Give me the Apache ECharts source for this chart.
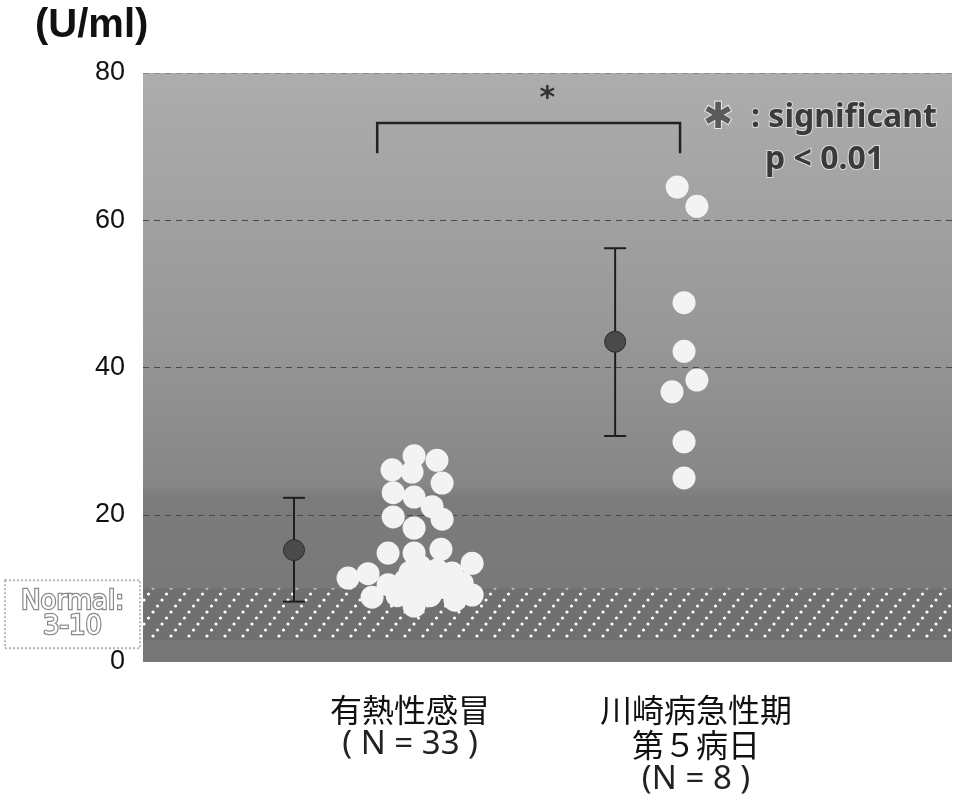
<!DOCTYPE html>
<html>
<head>
<meta charset="utf-8">
<script src="https://cdn.jsdelivr.net/npm/echarts@6/dist/echarts.min.js"></script>
<style>html,body{margin:0;padding:0;background:#fff}#c{width:954px;height:800px}</style>
</head>
<body>
<div id="c"></div>
<script>
// ---------- data ----------
const categoryNames = ['有熱性感冒', '川崎病急性期\n第５病日'];
const sampleSizes = ['( N = 33 )', '(N = 8 )'];
const yTicks = [0, 20, 40, 60, 80];
// 有熱性感冒 (N=33): values (U/ml) and horizontal jitter (fraction of category spacing)
const feverValues = [28.0, 27.4, 25.8, 26.1, 24.3, 23.0, 22.4, 21.1, 19.4, 19.7, 18.2,
  14.8, 14.8, 15.3, 13.4, 11.4, 12.0, 8.8, 10.5, 9.0, 12.2, 9.8, 7.6, 11.1, 9.0,
  12.5, 10.1, 12.1, 8.4, 9.1, 11.1, 13.0, 10.7];
const feverJitter = [0.014, 0.094, 0.007, -0.063, 0.112, -0.059, 0.014, 0.077, 0.112, -0.059, 0.014,
  -0.077, 0.014, 0.108, 0.217, -0.217, -0.147, -0.133, -0.077, -0.045, 0.0, 0.010, 0.014, 0.052, 0.070,
  0.094, 0.122, 0.147, 0.157, 0.217, -0.017, 0.035, 0.182];
// 川崎病急性期 第5病日 (N=8)
const kawasakiValues = [64.5, 61.9, 48.8, 42.2, 38.3, 36.7, 29.9, 25.0];
const kawasakiJitter = [-0.066, 0.003, -0.042, -0.042, 0.003, -0.084, -0.042, -0.042];
// mean ± SD
const groupMeans = [15.2, 43.5];
const groupLows = [8.2, 30.7];
const groupHighs = [22.3, 56.2];
const meanJitter = [-0.406, -0.283];
// normal range
const normalRange = [3, 10];
const normalLabel = ['Normal:', '3-10'];
// significance bracket: [left x, right x, top y, leg bottom y]
const bracket = [0.885, 1.944, 73.2, 69.1];
const bracketStar = [1.48, 76.5];

// ---------- build ----------
const feverData = feverValues.map((v, i) => [1 + feverJitter[i], v]);
const kawaData = kawasakiValues.map((v, i) => [2 + kawasakiJitter[i], v]);
const meanData = groupMeans.map((m, i) => [i + 1 + meanJitter[i], m]);
const errData = groupMeans.map((m, i) => [i + 1 + meanJitter[i], groupLows[i], groupHighs[i]]);

// hatch pattern: dotted diagonal lines
const pc = document.createElement('canvas');
pc.width = 18; pc.height = 24;
const pctx = pc.getContext('2d');
pctx.fillStyle = '#707070';
pctx.fillRect(0, 0, 18, 24);
pctx.fillStyle = '#ffffff';
const hatchPts = [];
for (let k = 0; k <= 4; k++) hatchPts.push([k * 4.5, 24 - k * 6]);
hatchPts.push([0, 0], [18, 24]);
hatchPts.forEach(p => {
  pctx.beginPath(); pctx.arc(p[0], p[1], 1.6, 0, Math.PI * 2); pctx.fill();
});

const chart = echarts.init(document.getElementById('c'), null, {renderer: 'canvas'});
const xMin = 0.066, xMax = 2.895;
const option = {
  animation: false,
  backgroundColor: '#ffffff',
  grid: {
    left: 143, right: 2, top: 73, bottom: 138, show: true, borderWidth: 0,
    backgroundColor: {
      type: 'linear', x: 0, y: 0, x2: 0, y2: 1,
      colorStops: [
        {offset: 0, color: '#adadad'},
        {offset: 0.45, color: '#979797'},
        {offset: 0.7, color: '#868686'},
        {offset: 0.72, color: '#7c7c7c'},
        {offset: 1, color: '#767676'}
      ]
    }
  },
  xAxis: {
    type: 'value', min: xMin, max: xMax,
    axisLine: {show: false}, axisTick: {show: false}, splitLine: {show: false},
    axisLabel: {
      customValues: [1, 2],
      margin: 30,
      formatter: function (v) {
        const i = Math.round(v) - 1;
        const lines = categoryNames[i].split('\n').map(s => '{c|' + s + '}');
        return lines.join('\n') + '\n{n|' + sampleSizes[i] + '}';
      },
      rich: {
        c: {fontSize: 32, lineHeight: 35, fontFamily: 'Noto Sans CJK JP', color: '#111'},
        n: {fontSize: 33, lineHeight: 36, fontFamily: 'Noto Sans', color: '#222'}
      }
    }
  },
  yAxis: {
    type: 'value', min: yTicks[0], max: yTicks[yTicks.length - 1], interval: 20,
    axisLine: {show: false}, axisTick: {show: false},
    axisLabel: {fontSize: 27, color: '#111', fontFamily: 'Liberation Sans', margin: 18},
    splitLine: {show: true, lineStyle: {color: ['rgba(0,0,0,0)', '#4a4a4a', '#4a4a4a', '#4a4a4a', '#8a8a8a'], type: [6, 5], width: 1}}
  },
  graphic: [
    {type: 'text', left: 35, top: 6, style: {text: '(U/ml)', font: 'bold 40px "Liberation Sans"', fill: '#111'}},
    {type: 'text', left: 702, top: 100, style: {text: '✱', font: '36px "DejaVu Sans"', fill: '#5a5a5a', stroke: '#e8e8e8', lineWidth: 2}},
    {type: 'text', left: 750, top: 101, style: {text: ': significant', font: 'bold 32px "Noto Sans"', fill: '#3a3a3a', stroke: '#dcdcdc', lineWidth: 2}},
    {type: 'text', left: 764, top: 143, style: {text: 'p < 0.01', font: 'bold 32px "Noto Sans"', fill: '#3a3a3a', stroke: '#dcdcdc', lineWidth: 2}}
  ],
  series: [
    {
      type: 'line', data: [], z: 1,
      markArea: {
        silent: true,
        itemStyle: {color: {image: pc, repeat: 'repeat'}},
        data: [[{xAxis: 'min', yAxis: normalRange[0]}, {xAxis: 'max', yAxis: normalRange[1]}]]
      }
    },
    {
      type: 'custom', z: 3,
      data: [bracket],
      renderItem: function (params, api) {
        const a = api.coord([api.value(0), api.value(3)]);
        const b = api.coord([api.value(0), api.value(2)]);
        const c = api.coord([api.value(1), api.value(2)]);
        const d = api.coord([api.value(1), api.value(3)]);
        const s = api.coord(bracketStar);
        return {type: 'group', children: [
          {type: 'polyline', shape: {points: [a, b, c, d]}, style: {stroke: '#222', lineWidth: 2.5, fill: null}},
          {type: 'text', style: {text: '*', x: s[0], y: s[1], font: 'bold 30px "DejaVu Sans"', fill: '#333', align: 'center', verticalAlign: 'middle'}}
        ]};
      }
    },
    {
      type: 'custom', z: 4,
      data: errData,
      renderItem: function (params, api) {
        const lo = api.coord([api.value(0), api.value(1)]);
        const hi = api.coord([api.value(0), api.value(2)]);
        const w = 11;
        const st = {stroke: '#1e1e1e', lineWidth: 2};
        return {type: 'group', children: [
          {type: 'line', shape: {x1: lo[0], y1: lo[1], x2: hi[0], y2: hi[1]}, style: st},
          {type: 'line', shape: {x1: lo[0] - w, y1: lo[1], x2: lo[0] + w, y2: lo[1]}, style: st},
          {type: 'line', shape: {x1: hi[0] - w, y1: hi[1], x2: hi[0] + w, y2: hi[1]}, style: st}
        ]};
      }
    },
    {
      type: 'scatter', z: 5, data: meanData, symbolSize: 21,
      itemStyle: {color: '#4a4a4a', borderColor: '#2a2a2a', borderWidth: 1, opacity: 1}
    },
    {
      type: 'scatter', z: 5, data: feverData, symbolSize: 23,
      itemStyle: {color: '#f3f3f3', opacity: 1}
    },
    {
      type: 'scatter', z: 5, data: kawaData, symbolSize: 23,
      itemStyle: {color: '#f3f3f3', opacity: 1}
    }
  ]
};
chart.setOption(option);

// Normal-range annotation box, anchored to the normal range on the y axis
const yHi = chart.convertToPixel({yAxisIndex: 0}, normalRange[1]);
const yLo = chart.convertToPixel({yAxisIndex: 0}, normalRange[0]);
const xLeft = chart.convertToPixel({xAxisIndex: 0}, xMin);
const yc = (yHi + yLo) / 2;
const boxH = 68, boxL = 5, boxR = xLeft - 3;
const g = option.graphic.slice();
g.push({
  type: 'group', z: 10, children: [
    {type: 'rect', shape: {x: boxL, y: yc - boxH / 2, width: boxR - boxL, height: boxH},
     style: {fill: '#ffffff', stroke: '#b5b5b5', lineWidth: 2, lineDash: [2, 2]}},
    {type: 'text', style: {text: normalLabel[0], x: (boxL + boxR) / 2, y: yc - 12, align: 'center', verticalAlign: 'middle',
      font: '26px "DejaVu Sans"', fill: '#ffffff', stroke: '#8a8a8a', lineWidth: 2.5}},
    {type: 'text', style: {text: normalLabel[1], x: (boxL + boxR) / 2, y: yc + 13, align: 'center', verticalAlign: 'middle',
      font: '26px "DejaVu Sans"', fill: '#ffffff', stroke: '#8a8a8a', lineWidth: 2.5}}
  ]
});
chart.setOption({graphic: g});
</script>
</body>
</html>
